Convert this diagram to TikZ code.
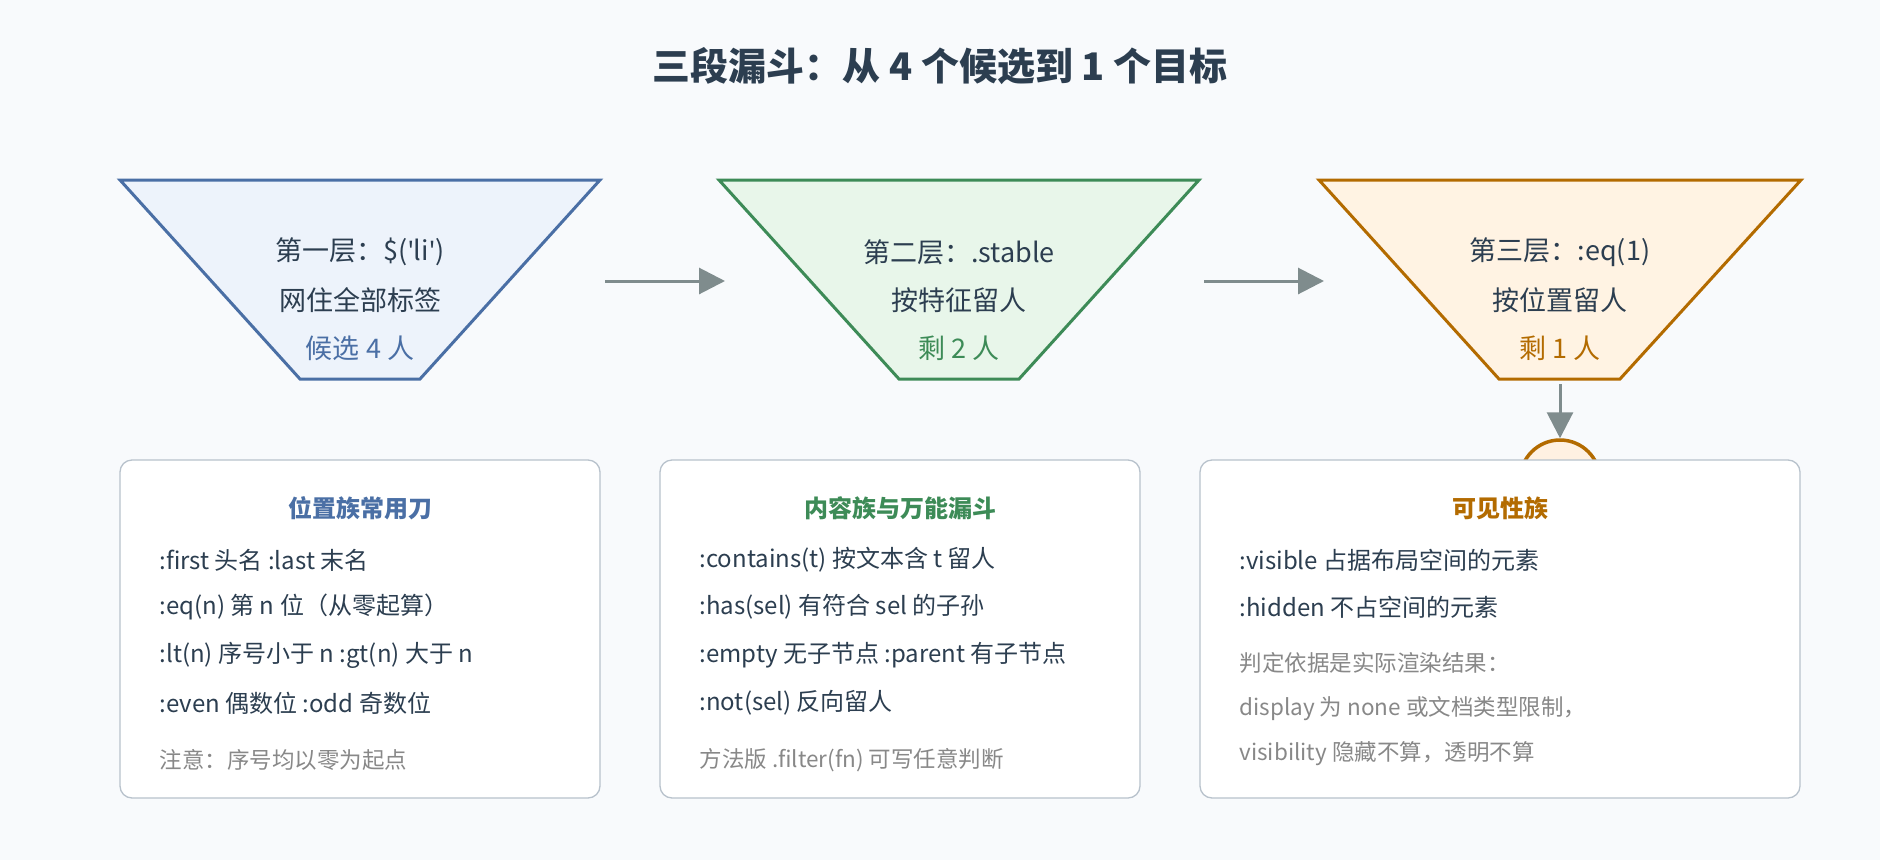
\documentclass[tikz,border=0pt]{standalone}
\usepackage{fontspec}
\setmainfont{Noto Sans CJK SC}
\newfontfamily\latq{Noto Sans}
\newcommand{\sq}{{\latq\textquotesingle}}
\usetikzlibrary{arrows.meta}
\definecolor{bg}{HTML}{F8FAFC}
\definecolor{dark}{HTML}{2C3E50}
\definecolor{cb}{HTML}{4A6FA5}\definecolor{fb}{HTML}{EDF3FB}
\definecolor{cg}{HTML}{3D8B57}\definecolor{fg}{HTML}{E8F6EA}
\definecolor{co}{HTML}{B36B00}\definecolor{fo}{HTML}{FFF3E3}
\definecolor{arr}{HTML}{7F8C8D}
\definecolor{note}{HTML}{888888}
\definecolor{bd}{HTML}{B8C2CC}
\begin{document}
\begin{tikzpicture}[x=1pt,y=-1pt,
  t/.style={font=\fontsize{27}{31}\selectfont,text=dark},
  ln/.style={font=\fontsize{24}{28}\selectfont,text=dark,anchor=west},
  nt/.style={font=\fontsize{22.5}{26}\selectfont,text=note,anchor=west},
  hd/.style={font=\fontsize{24}{28}\selectfont\bfseries,text=#1},
  box/.style={draw=bd,line width=1.3pt,fill=white,rounded corners=12pt},
  ar/.style={draw=arr,line width=3pt,-{Triangle[length=26pt,width=26pt]}}]
\fill[bg] (0,0) rectangle (1880,860);
\node[font=\fontsize{38}{44}\selectfont\bfseries,text=dark] (title) at (940,66) {三段漏斗：从 4 个候选到 1 个目标};
% funnels
\draw[cb,line width=3pt,fill=fb] (120,180) -- (600,180) -- (420,379) -- (300,379) -- cycle;
\draw[cg,line width=3pt,fill=fg] (719,180) -- (1199,180) -- (1019,379) -- (899,379) -- cycle;
\draw[co,line width=3pt,fill=fo] (1319,180) -- (1801,180) -- (1620,379) -- (1499,379) -- cycle;
\node[t] (a1) at (360,252) {第一层：\$(\sq li\sq)};
\node[t] (a2) at (360,300) {网住全部标签};
\node[t,text=cb] (a3) at (360,348) {候选 4 人};
\node[t] (b1) at (959,252) {第二层：.stable};
\node[t] (b2) at (959,300) {按特征留人};
\node[t,text=cg] (b3) at (959,348) {剩 2 人};
\node[t] (c1) at (1560,252) {第三层：:eq(1)};
\node[t] (c2) at (1560,300) {按位置留人};
\node[t,text=co] (c3) at (1560,348) {剩 1 人};
\coordinate (p1) at (605,281); \coordinate (q1) at (725,281);
\coordinate (p2) at (1204,281); \coordinate (q2) at (1324,281);
\draw[ar] (p1) -- (q1);
\draw[ar] (p2) -- (q2);
\node[circle,draw=co,line width=3.5pt,fill=fo!80!orange!40,minimum size=80pt] (res) at (1560,480) {};
\coordinate (d0) at (1560,384);
\draw[ar] (d0) -- (res.north);
% boxes
\draw[box] (120,460) rectangle (600,798);
\draw[box] (660,460) rectangle (1140,798);
\draw[box] (1200,460) rectangle (1800,798);
\node[hd=cb] (h1) at (360,508) {位置族常用刀};
\node[ln] at (156,560) {:first 头名 :last 末名};
\node[ln] at (156,607) {:eq(n) 第 n 位（从零起算）};
\node[ln] at (156,655) {:lt(n) 序号小于 n :gt(n) 大于 n};
\node[ln] at (156,703) {:even 偶数位 :odd 奇数位};
\node[nt] at (156,760) {注意：序号均以零为起点};
\node[hd=cg] (h2) at (900,508) {内容族与万能漏斗};
\node[ln] at (696,560) {:contains(t) 按文本含 t 留人};
\node[ln] at (696,607) {:has(sel) 有符合 sel 的子孙};
\node[ln] at (696,655) {:empty 无子节点 :parent 有子节点};
\node[ln] at (696,703) {:not(sel) 反向留人};
\node[nt] at (696,760) {方法版 .filter(fn) 可写任意判断};
\node[hd=co] (h3) at (1500,508) {可见性族};
\node[ln] at (1236,560) {:visible 占据布局空间的元素};
\node[ln] at (1236,607) {:hidden 不占空间的元素};
\node[nt] at (1236,663) {判定依据是实际渲染结果：};
\node[nt] at (1236,709) {display 为 none 或文档类型限制，};
\node[nt] at (1236,754) {visibility 隐藏不算，透明不算};
\end{tikzpicture}
\end{document}
